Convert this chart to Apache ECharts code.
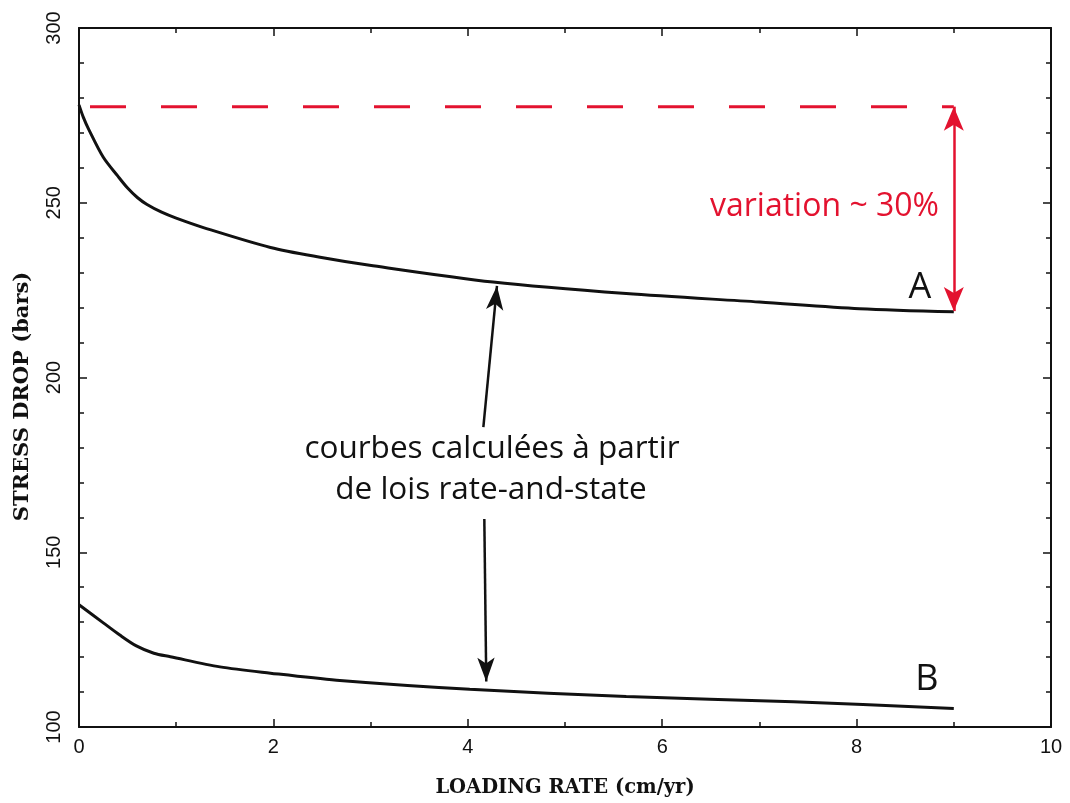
<!DOCTYPE html>
<html>
<head>
<meta charset="utf-8">
<script src="https://cdn.jsdelivr.net/npm/echarts@6/dist/echarts.min.js"></script>
<style>
  html, body { margin: 0; padding: 0; background: #fff; }
  #chart { width: 1070px; height: 803px; }
</style>
</head>
<body>
<div id="chart"></div>
<script>
// ---- data ----
const rateA = [0, 0.044, 0.1, 0.25, 0.4, 0.5, 0.6, 0.7, 0.85, 1.0, 1.28, 1.97, 2.48, 2.99, 4.26, 5.63, 7.0, 8.03, 9];
const dropA = [278, 274.5, 271, 263, 257.6, 254.2, 251.5, 249.5, 247.3, 245.6, 242.9, 237.2, 234.4, 232.1, 227.3, 224, 221.6, 219.7, 218.8];

const rateB = [0, 0.25, 0.42, 0.59, 0.77, 0.94, 1.45, 1.97, 2.65, 4.02, 5.63, 7.35, 9];
const dropB = [135, 129.8, 126.3, 123.2, 121.1, 120.1, 117.2, 115.4, 113.4, 110.8, 108.7, 107.2, 105.3];

// reference level (red dashed) and the variation arrow
const refLevel = 277.5;
const refFrom = 0.113;
const refTo = 9;
const varTop = 277.5;
const varBottom = 219;

// black arrows pointing at the curves
const arrowUp = [[4.16, 185.8], [4.30, 226.2]];
const arrowDown = [[4.17, 159.5], [4.19, 113.0]];

const xTicks = { min: 0, max: 10, interval: 2 };
const yTicks = { min: 100, max: 300, interval: 50 };

const RED = '#e3122f';
const INK = '#111';

function pairs(xs, ys) {
    return xs.map((x, i) => [x, ys[i]]);
}

const chart = echarts.init(document.getElementById('chart'));

const axisCommon = {
    type: 'value',
    axisLine: { show: true, onZero: false, lineStyle: { color: INK, width: 2 } },
    axisTick: { show: true, inside: true, length: 8, lineStyle: { color: INK, width: 1.5 } },
    minorTick: { show: true, length: 5, lineStyle: { color: INK, width: 1.5 } },
    splitLine: { show: false },
    minorSplitLine: { show: false }
};

const option = {
    animation: false,
    grid: { left: 79, right: 19, top: 28, bottom: 76, outerBoundsMode: 'none' },
    xAxis: [
        Object.assign({}, axisCommon, {
            position: 'bottom', min: xTicks.min, max: xTicks.max, interval: xTicks.interval,
            minorTick: Object.assign({}, axisCommon.minorTick, { splitNumber: 2 }),
            axisLabel: { color: INK, fontSize: 20, fontFamily: 'Liberation Sans', margin: 10 },
            name: 'LOADING RATE (cm/yr)', nameLocation: 'middle', nameGap: 51,
            nameTextStyle: { color: INK, fontSize: 19.5, fontWeight: 'bold', fontFamily: 'DejaVu Serif' }
        }),
        Object.assign({}, axisCommon, {
            position: 'top', min: xTicks.min, max: xTicks.max, interval: xTicks.interval,
            minorTick: Object.assign({}, axisCommon.minorTick, { splitNumber: 2 }),
            axisLabel: { show: false }
        })
    ],
    yAxis: [
        Object.assign({}, axisCommon, {
            position: 'left', min: yTicks.min, max: yTicks.max, interval: yTicks.interval,
            minorTick: Object.assign({}, axisCommon.minorTick, { splitNumber: 5 }),
            axisLabel: { color: INK, fontSize: 20, fontFamily: 'Liberation Sans', rotate: 90, margin: 15 },
            name: 'STRESS DROP (bars)', nameLocation: 'middle', nameGap: 46,
            nameTextStyle: { color: INK, fontSize: 21, fontWeight: 'bold', fontFamily: 'DejaVu Serif', padding: [0, 38, 0, 0] }
        }),
        Object.assign({}, axisCommon, {
            position: 'right', min: yTicks.min, max: yTicks.max, interval: yTicks.interval,
            minorTick: Object.assign({}, axisCommon.minorTick, { splitNumber: 5 }),
            axisLabel: { show: false }
        })
    ],
    series: [
        {
            name: 'A', type: 'line', data: pairs(rateA, dropA),
            smooth: 0.3, symbol: 'none',
            lineStyle: { color: INK, width: 3 },
            markLine: {
                silent: true, symbol: ['none', 'arrow'], symbolSize: [13, 24],
                label: { show: false },
                lineStyle: { color: INK, width: 2.5, type: 'solid' },
                data: [
                    [{ coord: arrowUp[0] }, { coord: arrowUp[1] }],
                    [{ coord: arrowDown[0] }, { coord: arrowDown[1] }]
                ]
            }
        },
        {
            name: 'B', type: 'line', data: pairs(rateB, dropB),
            smooth: 0.3, symbol: 'none',
            lineStyle: { color: INK, width: 3 }
        },
        {
            name: 'ref', type: 'line', data: [[refFrom, refLevel], [refTo, refLevel]],
            symbol: 'none',
            lineStyle: { color: RED, width: 3, type: [36, 35] },
            markLine: {
                silent: true, symbol: ['arrow', 'arrow'], symbolSize: [15, 24],
                label: { show: false },
                lineStyle: { color: RED, width: 2.5, type: 'solid' },
                data: [[{ coord: [refTo, varTop] }, { coord: [refTo, varBottom] }]]
            }
        }
    ],
    graphic: [
        { type: 'text', x: 710, y: 207, style: { text: 'variation ~ 30%', fill: RED, font: '32px "Open Sans"', verticalAlign: 'middle' } },
        { type: 'text', x: 492, y: 449, style: { text: 'courbes calculées à partir', fill: INK, font: '31.5px "Open Sans"', align: 'center', verticalAlign: 'middle' } },
        { type: 'text', x: 491, y: 490, style: { text: 'de lois rate-and-state', fill: INK, font: '31.5px "Open Sans"', align: 'center', verticalAlign: 'middle' } },
        { type: 'text', x: 920, y: 288, style: { text: 'A', fill: INK, font: '36px "Open Sans"', align: 'center', verticalAlign: 'middle' } },
        { type: 'text', x: 927, y: 680, style: { text: 'B', fill: INK, font: '36px "Open Sans"', align: 'center', verticalAlign: 'middle' } }
    ]
};

chart.setOption(option);
</script>
</body>
</html>
